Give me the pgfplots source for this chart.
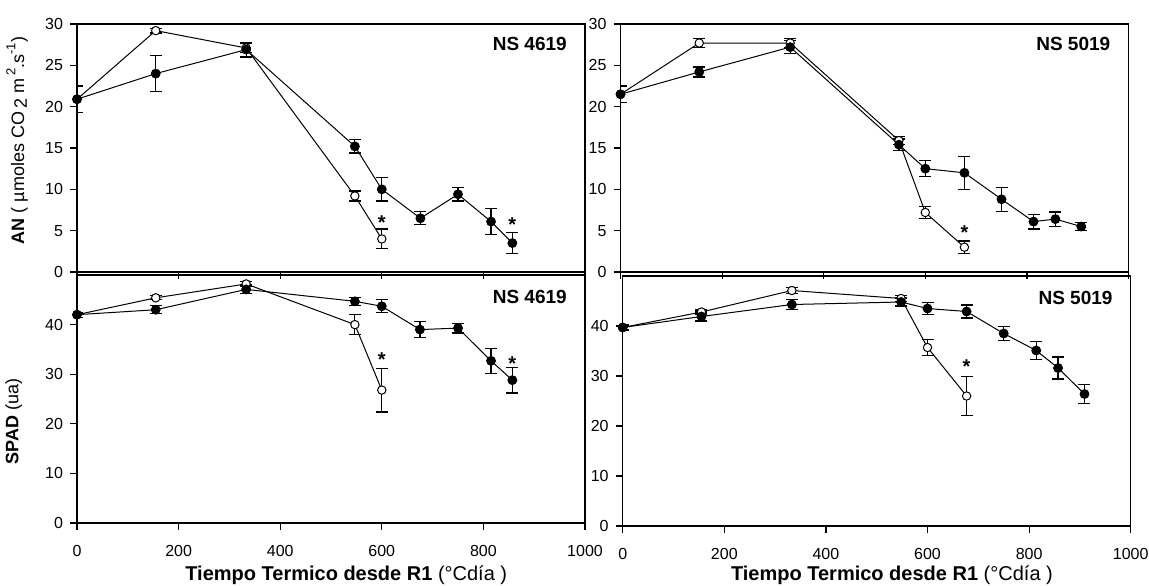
\documentclass[border=0pt]{standalone}
\usepackage{fontspec}
\setmainfont{Liberation Sans}
\usepackage{pgfplots}
\pgfplotsset{compat=1.18}

% AN and SPAD vs thermal time, two hybrids
\pgfplotstableread{
x y e
0 20.9 1.6
155 24.0 2.2
333 26.9 0.9
547 15.2 0.8
600 10.0 1.4
676 6.5 0.8
750 9.4 0.8
815 6.1 1.6
857 3.5 1.25
}\anAfill
\pgfplotstableread{
x y e
0 20.9 1.6
155 29.2 0.3
333 27.1 0.5
547 9.2 0.6
600 4.0 1.2
}\anAopen
\pgfplotstableread{
x y e
0 21.5 1.0
155 24.2 0.6
334 27.2 0.8
548 15.4 0.7
600 12.5 0.95
677 12.0 2.0
750 8.8 1.45
813 6.1 0.9
856 6.4 0.85
907 5.5 0.5
}\anBfill
\pgfplotstableread{
x y e
0 21.5 1.0
155 27.7 0.5
334 27.7 0.5
548 15.9 0.5
600 7.2 0.7
677 3.0 0.75
}\anBopen
\pgfplotstableread{
x y e
0 42.0 0.5
155 43.0 0.8
333 47.1 0.9
547 44.7 0.8
600 43.7 1.3
675 39.0 1.6
750 39.3 1.0
815 32.7 2.5
857 28.8 2.6
}\spAfill
\pgfplotstableread{
x y e
0 42.0 0.5
155 45.4 0.4
333 48.2 0.5
547 40.0 2.0
600 26.8 4.4
}\spAopen
\pgfplotstableread{
x y e
0 39.7 0.5
155 41.9 0.9
333 44.3 1.0
548 44.8 0.8
600 43.5 1.15
677 42.9 1.3
750 38.5 1.4
814 35.1 1.75
857 31.6 2.2
909 26.4 1.9
}\spBfill
\pgfplotstableread{
x y e
0 39.7 0.5
155 42.8 0.4
333 47.1 0.6
548 45.5 0.6
600 35.7 1.65
677 26.0 3.9
}\spBopen

\pgfplotsset{
  panel/.style={
    scale only axis, width=254pt, height=124pt,
    xmin=0, xmax=1000, xtick={0,200,...,1000},
    axis line style={line width=0.6pt},
    tick style={line width=0.6pt, black},
    tick align=outside, major tick length=3.5pt,
    xtick pos=left, ytick pos=left,
    /pgf/number format/assume math mode=true,
    /pgf/number format/1000 sep={},
    tick label style={font=\fontsize{8}{9.5}\selectfont},
    xticklabel style={yshift=-4pt},
    label style={font=\fontsize{9}{11}\selectfont},
  },
  ebars/.style={error bars/.cd, y dir=both, y explicit,
    error bar style={line width=0.6pt},
    error mark options={rotate=90, mark size=3pt, line width=0.6pt}},
  filled/.style={black, line width=0.5pt, mark=*, mark size=2.2pt,
    mark options={fill=black}, ebars},
  open/.style={black, line width=0.5pt, mark=*, mark size=2.1pt,
    mark options={fill=white}, ebars},
}
\tikzset{
  star/.style={anchor=north, inner sep=0pt, font=\bfseries\fontsize{10}{12}\selectfont},
  tag/.style={anchor=base east, font=\bfseries\fontsize{9.5}{11}\selectfont},
}

\begin{document}
\begin{tikzpicture}
\useasboundingbox (0,0) rectangle (574.5pt,292.5pt);

% top left
\begin{axis}[panel, at={(38.5pt,156.5pt)}, anchor=south west,
  ymin=0, ymax=30, ytick={0,5,...,30}, xticklabels={},
  ylabel={\textbf{AN} ( µmoles CO\,\raisebox{-0.3ex}{2} m\,\raisebox{0.9ex}{\fontsize{6.5}{7}\selectfont 2}.s\raisebox{0.9ex}{\fontsize{6.5}{7}\selectfont -1})},
  ylabel style={at={(axis description cs:-0.083,0.53)}, anchor=south}]
\addplot[open] table[x=x, y=y, y error=e] {\anAopen};
\addplot[filled] table[x=x, y=y, y error=e] {\anAfill};
\node[star] at (axis cs:600,6.8) {*};
\node[star] at (axis cs:857,6.6) {*};
\node[tag] at (axis description cs:0.978,0.895) {NS 4619};
\end{axis}

% top right
\begin{axis}[panel, at={(310.25pt,156.5pt)}, anchor=south west,
  ymin=0, ymax=30, ytick={0,5,...,30}, xticklabels={}]
\addplot[open] table[x=x, y=y, y error=e] {\anBopen};
\addplot[filled] table[x=x, y=y, y error=e] {\anBfill};
\node[star] at (axis cs:677,5.6) {*};
\node[tag] at (axis description cs:0.978,0.895) {NS 5019};
\end{axis}

% bottom left
\begin{axis}[panel, at={(38.5pt,31pt)}, anchor=south west,
  ymin=0, ymax=50, ytick={0,10,...,40},
  ylabel={\textbf{SPAD} (ua)},
  ylabel style={at={(axis description cs:-0.094,0.41)}, anchor=south},
  xlabel={\textbf{Tiempo Termico desde R1} (°Cdía )},
  xlabel style={at={(axis description cs:0.53,-0.23)}, anchor=base,
    font=\fontsize{10}{12}\selectfont}]
\addplot[open] table[x=x, y=y, y error=e] {\spAopen};
\addplot[filled] table[x=x, y=y, y error=e] {\spAfill};
\node[star] at (axis cs:600,34.5) {*};
\node[star] at (axis cs:857,33.6) {*};
\node[tag] at (axis description cs:0.978,0.887) {NS 4619};
\end{axis}

% bottom right
\begin{axis}[panel, at={(311.35pt,29.5pt)}, anchor=south west, height=125pt,
  ymin=0, ymax=50, ytick={0,10,...,40},
  xlabel={\textbf{Tiempo Termico desde R1} (°Cdía )},
  xlabel style={at={(axis description cs:0.53,-0.216)}, anchor=base,
    font=\fontsize{10}{12}\selectfont}]
\addplot[open] table[x=x, y=y, y error=e] {\spBopen};
\addplot[filled] table[x=x, y=y, y error=e] {\spBfill};
\node[star] at (axis cs:677,33.4) {*};
\node[tag] at (axis description cs:0.978,0.887) {NS 5019};
\end{axis}
\end{tikzpicture}
\end{document}
